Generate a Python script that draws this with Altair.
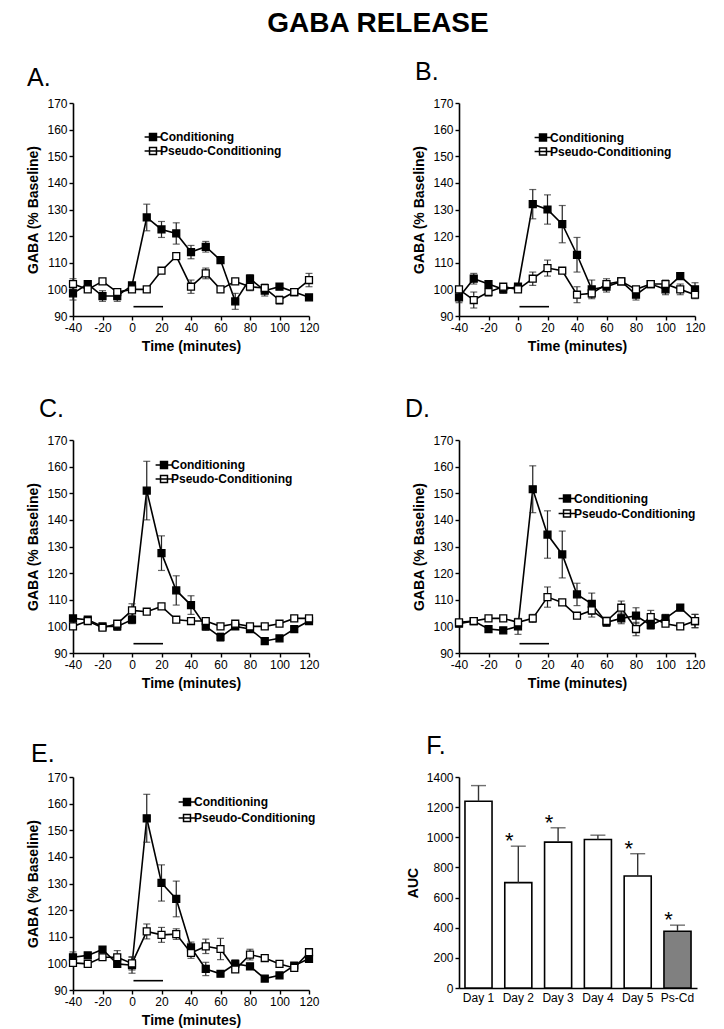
import altair as alt
import pandas as pd

FONT = "Liberation Sans"

TIME = [-40, -30, -20, -10, 0, 10, 20, 30, 40, 50, 60, 70, 80, 90, 100, 110, 120]
SERIES = ["Conditioning", "Pseudo-Conditioning"]
STIM_START = 1
STIM_END = 21
STIM_LEVEL = 93.5
X_TICKS = [-40, -20, 0, 20, 40, 60, 80, 100, 120]
Y_TICKS = [90, 100, 110, 120, 130, 140, 150, 160, 170]

A_COND = [98.5, 102, 97.5, 97.5, 101.5, 127, 122.5, 121, 114, 116, 111, 95.5, 104, 99.5, 101, 99, 97]
A_COND_ERR = [2.5, 1, 2, 2, 1, 5, 3, 4, 2.5, 2, 1, 3, 1.5, 2, 1, 1, 1]
A_PSEUDO = [102, 100, 103, 99, 100, 100, 107, 112.5, 101, 106, 100, 103, 101, 100.5, 96, 99, 103.5]
A_PSEUDO_ERR = [2, 1, 1, 1, 1, 1, 1, 1, 2.5, 2, 1, 1, 1.5, 1.5, 1.5, 1, 2.5]

B_COND = [97, 104, 102, 100, 101, 132, 130, 124.5, 113, 100, 101, 103, 98, 102, 100, 105, 100]
B_COND_ERR = [2, 2, 1, 1.5, 1, 5.5, 5.5, 7, 6.5, 3.5, 2, 1, 2, 1, 2, 1, 2.5]
B_PSEUDO = [100, 96, 99, 101, 100, 104, 108, 107, 98, 98.5, 102, 103, 100, 102, 102, 100, 98]
B_PSEUDO_ERR = [1, 3, 1.5, 1, 1, 2.5, 3, 1, 3, 1.5, 2, 1, 1, 1, 1.5, 2, 1.5]

C_COND = [103, 102.5, 100, 100, 102.5, 151, 127.5, 113.5, 108, 100, 96, 100, 99, 94.5, 95.5, 99, 102]
C_COND_ERR = [1, 1, 1, 1.5, 1.5, 11, 6.5, 5.5, 3.5, 1.5, 1.5, 1, 1, 1, 1, 1, 1]
C_PSEUDO = [100, 102, 99.5, 101, 106, 105.5, 107.5, 102.5, 102, 102, 100, 101, 100, 100, 101, 103, 103]
C_PSEUDO_ERR = [1, 1, 1, 1, 2.5, 1, 1, 1, 1, 1, 1, 1, 1, 1, 1, 1, 1]

D_COND = [101, 102, 99, 98.5, 100, 151.5, 134.5, 127, 112, 108.5, 101.5, 103, 104, 100.5, 103, 107, 102]
D_COND_ERR = [1, 1, 1, 1, 3, 8.8, 8.9, 8.8, 4.2, 4, 1.5, 2, 3, 1.5, 1.5, 1, 2.5]
D_PSEUDO = [101.5, 102, 103, 103, 101.5, 103, 111, 109, 104, 106, 102, 107, 99, 103.5, 101, 100, 102]
D_PSEUDO_ERR = [1, 1, 1, 1, 1, 1.5, 3.8, 1, 1, 2.5, 1.5, 2.5, 2.5, 2.5, 1, 1, 2.5]

E_COND = [102.3, 103, 105.2, 99.8, 99.3, 154.5, 130.2, 124.2, 106, 97.9, 96.1, 99.8, 98.9, 94.3, 95.5, 99.2, 101.7]
E_COND_ERR = [2, 1, 1, 1, 3, 9, 6.8, 6.7, 2, 2.5, 1, 1.5, 1, 1, 1, 1, 1]
E_PSEUDO = [100.2, 99.8, 102.3, 102.3, 100, 112, 110.7, 111, 103.9, 106.4, 105.4, 97.7, 103.3, 102, 99.8, 98.3, 104.2]
E_PSEUDO_ERR = [1, 1, 1, 2.5, 2.5, 2.8, 2.8, 2, 2, 2.7, 4, 1, 2, 1, 1, 1, 1]

DAYS = ["Day 1", "Day 2", "Day 3", "Day 4", "Day 5", "Ps-Cd"]
AUC = [1239, 699, 968, 985, 743, 377]
AUC_ERR = [104, 242, 95, 29, 148, 40]
SIGNIFICANT = [False, True, True, False, True, True]
AUC_TICKS = [0, 200, 400, 600, 800, 1000, 1200, 1400]

LEGEND_SYMBOL = "M-1.4,0L1.4,0M-0.58,-0.58L0.58,-0.58L0.58,0.58L-0.58,0.58Z"
PLAIN_LABEL = "toString(datum.value)"


def line_panel(label, cond, cond_err, pseudo, pseudo_err, lx, ly, row_pad, title_dx, title_off):
    rows = []
    for name, vals, errs in ((SERIES[0], cond, cond_err), (SERIES[1], pseudo, pseudo_err)):
        for t, v, e in zip(TIME, vals, errs):
            rows.append({"time": t, "value": v, "lo": v - e, "hi": v + e, "series": name})
    df = pd.DataFrame(rows)
    stim = pd.DataFrame({"start": [STIM_START], "end": [STIM_END], "level": [STIM_LEVEL]})

    xs = alt.Scale(domain=[-40, 120], nice=False, zero=False)
    ys = alt.Scale(domain=[90, 170], nice=False, zero=False)
    xaxis = alt.Axis(values=X_TICKS, title="Time (minutes)",
                     labelExpr=PLAIN_LABEL, labelOverlap=False,
                     labelFlush=False, labelAlign="center")
    yaxis = alt.Axis(values=Y_TICKS, title="GABA (% Baseline)",
                     labelExpr=PLAIN_LABEL, labelOverlap=False)
    x = alt.X("time:Q", scale=xs, axis=xaxis)
    y = alt.Y("value:Q", scale=ys, axis=yaxis)
    ylo = alt.Y("lo:Q", scale=ys, axis=yaxis)
    yhi = alt.Y("hi:Q", scale=ys, axis=yaxis)

    base = alt.Chart(df)
    line = base.mark_line(color="black", strokeWidth=1.6).encode(
        x=x, y=y, detail="series:N")
    err = base.mark_rule(color="#222", strokeWidth=1.2).encode(x=x, y=ylo, y2="hi:Q")
    cap_lo = base.mark_tick(orient="horizontal", size=7, thickness=1.2, color="#222").encode(
        x=x, y=ylo)
    cap_hi = base.mark_tick(orient="horizontal", size=7, thickness=1.2, color="#222").encode(
        x=x, y=yhi)
    pts = base.mark_point(shape="square", filled=True, size=48, stroke="black",
                          strokeWidth=1.3, opacity=1).encode(
        x=x, y=y,
        fill=alt.Fill("series:N",
                      scale=alt.Scale(domain=SERIES, range=["black", "white"]),
                      legend=alt.Legend(
                          title=None, orient="none", legendX=lx, legendY=ly,
                          symbolType=LEGEND_SYMBOL, symbolSize=144,
                          symbolStrokeColor="black", symbolStrokeWidth=1.5,
                          symbolOpacity=1,
                          labelFont=FONT, labelFontSize=12, labelFontWeight="bold",
                          labelColor="black", labelOffset=0, rowPadding=row_pad,
                          padding=0)))
    bar = alt.Chart(stim).mark_rule(color="black", strokeWidth=1.6).encode(
        x=alt.X("start:Q", scale=xs, axis=xaxis), x2="end:Q",
        y=alt.Y("level:Q", scale=ys, axis=yaxis))

    return alt.layer(line, err, cap_lo, cap_hi, pts, bar).properties(
        width=236, height=213,
        title=alt.TitleParams(label, anchor="start", fontSize=25, fontWeight="normal",
                              font=FONT, color="black", dx=title_dx, offset=title_off))


def auc_panel(title_off):
    df = pd.DataFrame({"day": DAYS, "auc": AUC,
                       "hi": [a + e for a, e in zip(AUC, AUC_ERR)],
                       "sig": SIGNIFICANT})
    xs = alt.Scale(domain=DAYS, paddingInner=0.32, paddingOuter=0.15)
    ys = alt.Scale(domain=[0, 1400], nice=False)
    xaxis = alt.Axis(title=None, labelAngle=0, ticks=False, labelPadding=4)
    yaxis = alt.Axis(values=AUC_TICKS, title="AUC", labelExpr=PLAIN_LABEL,
                     labelOverlap=False)
    x = alt.X("day:N", scale=xs, sort=DAYS, axis=xaxis)
    base = alt.Chart(df)
    bars = base.mark_bar(stroke="black", strokeWidth=1.6).encode(
        x=x,
        y=alt.Y("auc:Q", scale=ys, axis=yaxis),
        fill=alt.Fill("day:N", scale=alt.Scale(domain=DAYS,
                                              range=["white"] * 5 + ["#808080"]),
                      legend=None))
    err = base.mark_rule(color="#333", strokeWidth=1.4).encode(
        x=x, y=alt.Y("auc:Q", scale=ys, axis=yaxis), y2="hi:Q")
    cap = base.mark_tick(orient="horizontal", size=15, thickness=1.4, color="#333").encode(
        x=x, y=alt.Y("hi:Q", scale=ys, axis=yaxis))
    stars = base.transform_filter("datum.sig").mark_text(
        text="*", fontSize=22, font=FONT, dx=-9, dy=2, baseline="alphabetic",
        color="black").encode(x=x, y=alt.Y("hi:Q", scale=ys, axis=yaxis))
    return alt.layer(bars, err, cap, stars).properties(
        width=238, height=211,
        title=alt.TitleParams("F.", anchor="start", fontSize=25, fontWeight="normal",
                              font=FONT, color="black", dx=20, offset=title_off))


pa = line_panel("A.", A_COND, A_COND_ERR, A_PSEUDO, A_PSEUDO_ERR, 73, 27, -3, 0, 6)
pb = line_panel("B.", B_COND, B_COND_ERR, B_PSEUDO, B_PSEUDO_ERR, 77, 27.5, -3, 2, 12)
pc = line_panel("C.", C_COND, C_COND_ERR, C_PSEUDO, C_PSEUDO_ERR, 84, 18, -2, 12, 12)
pd_ = line_panel("D.", D_COND, D_COND_ERR, D_PSEUDO, D_PSEUDO_ERR, 101, 51.5, 1, -8, 12)
pe = line_panel("E.", E_COND, E_COND_ERR, E_PSEUDO, E_PSEUDO_ERR, 107, 18, 2, 4, 4)
pf = auc_panel(12)

chart = alt.concat(pa, pb, pc, pd_, pe, pf, columns=2,
                   spacing={"row": 44, "column": 84}).resolve_scale(
    fill="independent").properties(
    title=alt.TitleParams("GABA RELEASE", fontSize=28, fontWeight="bold", font=FONT,
                          color="black", anchor="middle", offset=22, dx=12),
    background="white",
    padding={"left": 18, "top": 2, "right": 5, "bottom": 5},
).configure_view(stroke=None).configure_axis(
    grid=False, domainColor="black", domainWidth=1.6, tickColor="black",
    tickWidth=1.4, tickSize=4, labelFont=FONT, labelFontSize=12, labelColor="black",
    labelPadding=2, titleFont=FONT, titleFontSize=14, titleFontWeight="bold",
    titleColor="black", titlePadding=6
)

chart.save("out.html", embed_options={"renderer": "svg", "actions": False})
